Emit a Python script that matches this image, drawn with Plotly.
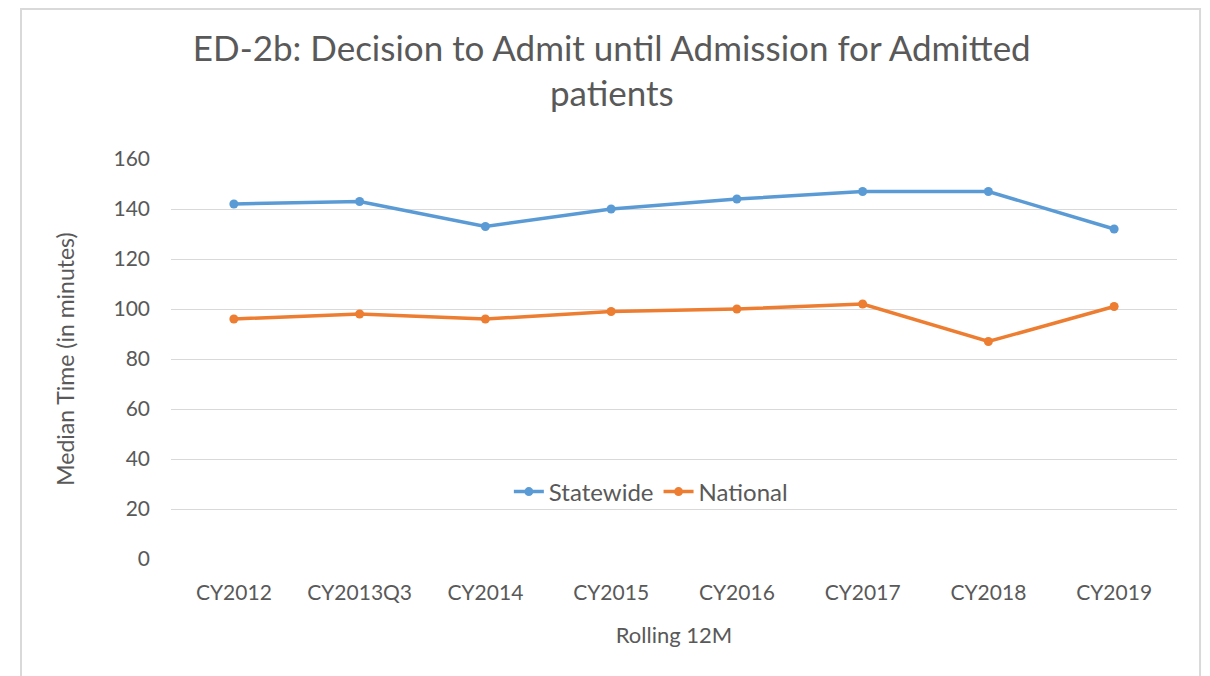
import plotly.graph_objects as go

periods = ['CY2012', 'CY2013Q3', 'CY2014', 'CY2015', 'CY2016', 'CY2017', 'CY2018', 'CY2019']
statewide = [142, 143, 133, 140, 144, 147, 147, 132]
national = [96, 98, 96, 99, 100, 102, 87, 101]

grey = '#595959'
font_name = 'Lato, Open Sans, sans-serif'

fig = go.Figure()
fig.add_trace(go.Scatter(x=periods, y=statewide, name='Statewide', mode='lines+markers',
                         line=dict(color='#5B9BD5', width=3.5), marker=dict(size=9)))
fig.add_trace(go.Scatter(x=periods, y=national, name='National', mode='lines+markers',
                         line=dict(color='#ED7D31', width=3.5), marker=dict(size=9)))

# page body has an 8px margin, so the plot area is placed 8px up/left of the target
fig.update_layout(
    width=1210, height=676,
    margin=dict(l=163, r=41, t=151, b=125),
    paper_bgcolor='white', plot_bgcolor='white',
    font=dict(family=font_name, size=21, color=grey),
    title=dict(text='ED-2b: Decision to Admit until Admission for Admitted<br>patients',
               x=0.499, xanchor='center', y=0.922, yanchor='middle',
               font=dict(size=35, color=grey)),
    legend=dict(orientation='h', x=0.477, xanchor='center', y=0.1675, yanchor='middle',
                bgcolor='rgba(0,0,0,0)', font=dict(size=24), tracegroupgap=0),
    showlegend=True,
)
fig.update_xaxes(type='category', range=[-0.5, 7.5], showgrid=False, showline=False,
                 ticks='', ticklabelstandoff=19,
                 title=dict(text='Rolling 12M', font=dict(size=22), standoff=24))
fig.update_yaxes(range=[0, 160], dtick=20, showgrid=True, gridcolor='#d9d9d9', gridwidth=1.3,
                 zeroline=False, showline=False, ticks='', ticklabelstandoff=20,
                 title=dict(text='Median Time (in minutes)', font=dict(size=23), standoff=32))

# chart border like the Excel chart area
fig.add_shape(type='rect', xref='paper', yref='paper', x0=-0.1491, x1=1.0229, y0=-0.6, y1=1.375,
              line=dict(color='#d9d9d9', width=2), layer='below')
# faint dashed strip at the right edge of the screenshot
fig.add_shape(type='line', xref='paper', yref='paper', x0=1.0288, x1=1.0288, y0=-0.6, y1=1.235,
              line=dict(color='#d6e5f7', width=7, dash='dot'))

fig.write_html("out.html")
